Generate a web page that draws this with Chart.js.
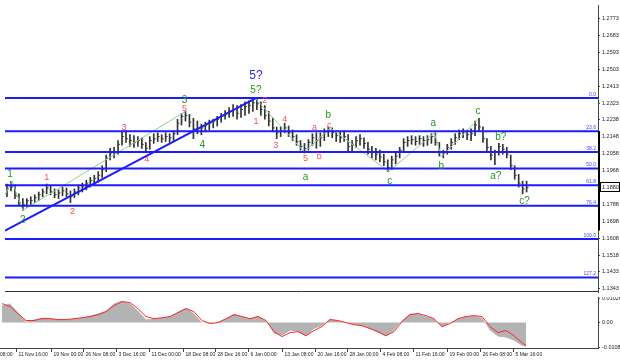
<!DOCTYPE html>
<html>
<head>
<meta charset="utf-8">
<script src="https://cdn.jsdelivr.net/npm/chart.js@4.4.0/dist/chart.umd.min.js"></script>
<style>
  html, body { margin: 0; padding: 0; background: #fff; }
  #wrap { width: 620px; height: 361px; position: relative; overflow: hidden; background: #fff; }
  #priceChart { position: absolute; left: 0; top: 0; }
  #oscChart { position: absolute; left: 0; top: 297px; }
</style>
</head>
<body>
<div id="wrap">
  <canvas id="priceChart" width="620" height="297"></canvas>
  <canvas id="oscChart" width="620" height="64"></canvas>
</div>
<script>
const FONT = '"Liberation Sans", Arial, sans-serif';

// price bars (one bar per slot, x = bar index)
const highs = [1.1898,1.1913,1.1892,1.1846,1.1821,1.1821,1.1831,1.1841,1.1856,1.1872,
  1.1898,1.1887,1.1872,1.1867,1.1882,1.1877,1.1862,1.1872,1.1892,1.1903,
  1.1918,1.1933,1.1944,1.1964,1.1995,1.2051,1.2087,1.2092,1.2128,1.2174,
  1.2179,1.2159,1.2154,1.2149,1.2143,1.2118,1.2149,1.2164,1.2169,1.2159,
  1.2169,1.2164,1.2179,1.2241,1.2272,1.2282,1.2266,1.2246,1.2231,1.2215,
  1.2225,1.2236,1.2241,1.2256,1.2272,1.2287,1.2302,1.2318,1.2313,1.2318,
  1.2333,1.2338,1.2350,1.2348,1.2333,1.2313,1.2282,1.2246,1.2200,1.2200,
  1.2220,1.2205,1.2184,1.2159,1.2128,1.2113,1.2133,1.2164,1.2169,1.2169,
  1.2190,1.2200,1.2195,1.2179,1.2174,1.2179,1.2159,1.2128,1.2149,1.2159,
  1.2143,1.2118,1.2097,1.2087,1.2077,1.2056,1.2026,1.2046,1.2067,1.2092,
  1.2138,1.2149,1.2154,1.2149,1.2154,1.2149,1.2154,1.2164,1.2169,1.2118,
  1.2077,1.2108,1.2138,1.2164,1.2184,1.2190,1.2184,1.2190,1.2231,1.2246,
  1.2200,1.2138,1.2097,1.2077,1.2113,1.2108,1.2092,1.2051,1.1995,1.1949,
  1.1913,1.1913];
const lows = [1.1831,1.1862,1.1821,1.1785,1.1759,1.1775,1.1790,1.1800,1.1810,1.1831,
  1.1846,1.1841,1.1826,1.1821,1.1836,1.1831,1.1800,1.1826,1.1841,1.1856,
  1.1867,1.1882,1.1892,1.1908,1.1933,1.1964,1.2026,1.2036,1.2056,1.2103,
  1.2118,1.2097,1.2092,1.2097,1.2087,1.2067,1.2082,1.2113,1.2123,1.2118,
  1.2123,1.2118,1.2128,1.2159,1.2210,1.2231,1.2200,1.2138,1.2164,1.2159,
  1.2174,1.2184,1.2195,1.2205,1.2225,1.2241,1.2251,1.2256,1.2241,1.2251,
  1.2261,1.2272,1.2282,1.2292,1.2261,1.2241,1.2205,1.2174,1.2138,1.2149,
  1.2169,1.2149,1.2128,1.2103,1.2077,1.2062,1.2077,1.2103,1.2087,1.2097,
  1.2128,1.2149,1.2143,1.2123,1.2118,1.2123,1.2072,1.2067,1.2092,1.2103,
  1.2087,1.2056,1.2036,1.2026,1.2015,1.1995,1.1964,1.1974,1.2005,1.2036,
  1.2067,1.2097,1.2108,1.2103,1.2108,1.2097,1.2103,1.2113,1.2103,1.2046,
  1.2036,1.2056,1.2082,1.2108,1.2133,1.2143,1.2133,1.2128,1.2154,1.2179,
  1.2118,1.2067,1.2026,1.2000,1.2051,1.2056,1.2036,1.1974,1.1923,1.1882,
  1.1846,1.1856];
const closes = [1.1872,1.1882,1.1836,1.1800,1.1790,1.1810,1.1810,1.1826,1.1841,1.1856,
  1.1877,1.1856,1.1841,1.1851,1.1862,1.1846,1.1831,1.1856,1.1877,1.1887,
  1.1903,1.1918,1.1928,1.1944,1.1974,1.2036,1.2062,1.2067,1.2108,1.2149,
  1.2138,1.2128,1.2118,1.2128,1.2108,1.2087,1.2128,1.2138,1.2149,1.2138,
  1.2149,1.2143,1.2164,1.2220,1.2256,1.2261,1.2225,1.2190,1.2190,1.2195,
  1.2210,1.2220,1.2231,1.2241,1.2256,1.2272,1.2282,1.2292,1.2272,1.2292,
  1.2307,1.2313,1.2328,1.2323,1.2292,1.2261,1.2231,1.2195,1.2169,1.2179,
  1.2195,1.2169,1.2149,1.2123,1.2097,1.2087,1.2118,1.2143,1.2128,1.2143,
  1.2169,1.2184,1.2169,1.2154,1.2143,1.2149,1.2097,1.2108,1.2128,1.2138,
  1.2113,1.2082,1.2067,1.2056,1.2041,1.2015,1.1985,1.2026,1.2046,1.2077,
  1.2118,1.2128,1.2133,1.2123,1.2138,1.2128,1.2133,1.2149,1.2118,1.2067,
  1.2062,1.2092,1.2118,1.2143,1.2164,1.2174,1.2159,1.2164,1.2210,1.2200,
  1.2138,1.2092,1.2051,1.2067,1.2097,1.2082,1.2056,1.1995,1.1944,1.1903,
  1.1872,1.1880];

// right price axis
const priceTicks = [1.2773,1.2683,1.2593,1.2503,1.2413,1.2323,1.2238,1.2148,1.2058,1.1968,
  1.1880,1.1788,1.1698,1.1608,1.1518,1.1433,1.1343];
const axisMarkTop = 1.2179, axisMarkBottom = 1.1652;

// fibonacci grid
const fibHigh = 1.2353, fibLow = 1.1607;
const fibLevels = [0, 23.6, 38.2, 50, 61.8, 76.4, 100, 127.2];
const fibText = ['0.0','23.6','38.2','50.0','61.8','76.4','100.0','127.2'];
const fibPrice = lv => fibHigh - lv / 100 * (fibHigh - fibLow);

// wave marks: [text, bar x, price]
const greenWaves = [['1',0.75,1.1949],['2',4,1.1708],['3',44.75,1.2343],['4',49.25,1.2103],
  ['5?',62.75,1.2394],['a',75.25,1.1933],['b',81,1.2261],['c',96.5,1.1913],
  ['a',107.5,1.2220],['b',109.5,1.1990],['c',118.75,1.2282],['b?',124.5,1.2144],
  ['a?',123.25,1.1939],['c?',130.5,1.1806]];
const redWaves = [['1',10,1.1933],['2',16.5,1.1754],['3',29.5,1.2195],['4',35.25,1.2026],
  ['5',44.75,1.2297],['1',62.75,1.2231],['2',65,1.2338],['3',67.75,1.2103],
  ['4',70,1.2241],['5',75.25,1.2031],['a',77.5,1.2195],['b',78.75,1.2041],['c',81.25,1.2210]];
const blueWaves = [['5?',62.75,1.2471]];

// green zigzag through wave pivots, blue trend line
const zigX = [-0.5,1.25,4,45,null,62.75,75,81.5,96.25,107.75,109.5,118.75];
const zigP = [1.1841,1.1913,1.1759,1.2282,null,1.2348,1.2067,1.2195,1.1964,1.2169,1.2041,1.2241];
const trendX = [-0.5, 62.75];
const trendP = [1.1652, 1.2353];

// time axis
const timeTicks = [-4.75,3.5,12.25,20.25,28.5,36.75,45.25,53.25,61.5,70,78.25,86.25,94.5,102.75,111.25,119.5,127.75];
const timeLabels = ['4 Nov 08:00','11 Nov 16:00','19 Nov 00:00','26 Nov 08:00','3 Dec 16:00','11 Dec 00:00',
  '18 Dec 08:00','28 Dec 16:00','6 Jan 00:00','13 Jan 08:00','20 Jan 16:00','28 Jan 00:00',
  '4 Feb 08:00','11 Feb 16:00','19 Feb 00:00','26 Feb 08:00','5 Mar 16:00'];

// oscillator (MACD-like)
const oscIdx = [0,2,4,6,8,10,12,14,16,18,20,22,24,26,28,30,32,34,36,38,40,42,44,46,48,50,
  52,54,56,58,60,62,64,66,68,70,72,74,76,78,80,82,84,86,88,90,92,94,96,98,100,102,104,106,
  108,110,112,114,116,118,120,122,124,126,128,130,131];
const macdMain = [0.0073,0.0082,0.0043,0.0004,0.0013,0.0021,0.0021,0.0013,0.0013,0.0017,
  0.0021,0.0030,0.0039,0.0051,0.0082,0.0094,0.0082,0.0051,0.0013,0.0017,
  0.0021,0.0026,0.0047,0.0064,0.0039,0,-0.0004,0.0004,0.0017,0.0039,
  0.0026,0.0017,0.0030,0.0009,-0.0047,-0.0056,-0.0034,-0.0039,-0.0060,-0.0026,
  -0.0013,0.0017,0.0009,0,-0.0009,-0.0013,-0.0026,-0.0043,-0.0060,-0.0034,
  0.0009,0.0039,0.0039,0.0026,0.0017,-0.0021,0,0.0017,0.0026,0.0030,
  0.0021,-0.0034,-0.0060,-0.0064,-0.0077,-0.0099,-0.0103];
const macdSignal = [0.0082,0.0069,0.0039,0.0009,0.0009,0.0017,0.0017,0.0013,0.0013,0.0017,
  0.0021,0.0026,0.0034,0.0047,0.0073,0.0090,0.0086,0.0060,0.0026,0.0017,
  0.0021,0.0026,0.0043,0.0060,0.0047,0.0009,-0.0004,0,0.0017,0.0034,
  0.0026,0.0017,0.0026,0.0009,-0.0039,-0.0060,-0.0043,-0.0039,-0.0056,-0.0034,
  -0.0017,0.0013,0.0009,0,-0.0009,-0.0013,-0.0026,-0.0039,-0.0056,-0.0039,
  0.0004,0.0034,0.0039,0.0030,0.0017,-0.0017,-0.0004,0.0017,0.0026,0.0030,
  0.0026,-0.0017,-0.0043,-0.0034,-0.0056,-0.0086,-0.0099];
const oscTicks = [0.01026, 0, -0.0108];
const oscTickText = ['0.01026', '0.00', '-0.0108'];

const X_MIN = -0.5, X_MAX = 149;

const fixAxis = s => { s.width = 22; s.paddingTop = 0; s.paddingBottom = 0; };

const priceOverlay = {
  id: 'priceOverlay',
  afterDatasetsDraw(chart) {
    const { ctx, chartArea: a, scales: { x, y } } = chart;
    ctx.save();
    ctx.font = '5px ' + FONT;
    ctx.fillStyle = '#4444ff';
    ctx.textAlign = 'right';
    ctx.textBaseline = 'bottom';
    fibLevels.forEach((lv, k) => {
      ctx.fillText(fibText[k], a.right - 2, y.getPixelForValue(fibPrice(lv)) - 1);
    });

    const drawGroup = (list, font, color) => {
      ctx.font = font;
      ctx.fillStyle = color;
      ctx.textAlign = 'center';
      ctx.textBaseline = 'middle';
      list.forEach(([t, xv, p]) => ctx.fillText(t, x.getPixelForValue(xv), y.getPixelForValue(p)));
    };
    drawGroup(greenWaves, '10px ' + FONT, '#1f9a1f');
    drawGroup(redWaves, '9px ' + FONT, '#f25454');
    drawGroup(blueWaves, '12px ' + FONT, '#2a2ad8');

    ctx.strokeStyle = '#333';
    ctx.lineWidth = 1;
    ctx.beginPath();
    ctx.moveTo(a.left, a.bottom - 0.5);
    ctx.lineTo(a.right, a.bottom - 0.5);
    ctx.stroke();
    ctx.restore();
  },
  afterDraw(chart) {
    const { ctx, chartArea: a, scales: { y } } = chart;
    const py = Math.round(y.getPixelForValue(closes[closes.length - 1]));
    ctx.save();
    ctx.strokeStyle = '#000';
    ctx.lineWidth = 1;
    ctx.strokeRect(a.right + 2.5, py - 4.5, 19, 9);
    ctx.lineWidth = 2;
    ctx.beginPath();
    ctx.moveTo(a.right + 1, y.getPixelForValue(axisMarkTop));
    ctx.lineTo(a.right + 1, y.getPixelForValue(axisMarkBottom));
    ctx.stroke();
    ctx.restore();
  }
};

const fibSets = fibLevels.map(lv => ({
  type: 'line',
  data: [{ x: X_MIN, y: fibPrice(lv) }, { x: X_MAX, y: fibPrice(lv) }],
  borderColor: '#1c1cff',
  borderWidth: 2,
  pointRadius: 0,
  order: 0
}));

new Chart(document.getElementById('priceChart'), {
  type: 'bar',
  data: {
    datasets: [
      {
        type: 'bar',
        data: highs.map((h, i) => ({ x: i, y: [lows[i], h] })),
        backgroundColor: '#333',
        barThickness: 1,
        grouped: false,
        order: 3
      },
      {
        type: 'scatter',
        data: closes.map((c, i) => ({ x: i + 0.25, y: c })),
        pointStyle: 'line',
        radius: 1,
        borderColor: '#444',
        borderWidth: 1,
        order: 3
      },
      {
        type: 'line',
        data: zigX.map((xv, k) => ({ x: xv, y: zigP[k] })),
        borderColor: '#8fd18f',
        borderWidth: 1,
        pointRadius: 0,
        spanGaps: false,
        order: 2
      },
      {
        type: 'line',
        data: trendX.map((xv, k) => ({ x: xv, y: trendP[k] })),
        borderColor: '#1c1cff',
        borderWidth: 2,
        pointRadius: 0,
        order: 1
      },
      ...fibSets
    ]
  },
  options: {
    responsive: false,
    animation: false,
    events: [],
    layout: { padding: 0 },
    plugins: { legend: { display: false }, tooltip: { enabled: false } },
    scales: {
      x: { type: 'linear', min: X_MIN, max: X_MAX, offset: false, display: false },
      y: {
        position: 'right',
        min: 1.1327,
        max: 1.2845,
        afterBuildTicks: s => { s.ticks = priceTicks.map(v => ({ value: v })); },
        afterFit: fixAxis,
        ticks: {
          autoSkip: false,
          padding: 2,
          color: '#222',
          font: { family: FONT, size: 5.5 },
          callback: v => v.toFixed(4)
        },
        grid: { drawOnChartArea: false, drawTicks: true, tickLength: 2, color: '#555' },
        border: { color: '#444', width: 1 }
      }
    }
  },
  plugins: [priceOverlay]
});

const timeAxis = {
  id: 'timeAxis',
  afterDraw(chart) {
    const { ctx, chartArea: a, scales: { x } } = chart;
    ctx.save();
    ctx.strokeStyle = '#444';
    ctx.lineWidth = 1;
    ctx.beginPath();
    ctx.moveTo(0, a.bottom + 0.5);
    ctx.lineTo(a.right, a.bottom + 0.5);
    ctx.stroke();
    ctx.font = '5px ' + FONT;
    ctx.fillStyle = '#222';
    ctx.textAlign = 'left';
    ctx.textBaseline = 'middle';
    timeTicks.forEach((v, k) => {
      const px = Math.round(x.getPixelForValue(v)) + 0.5;
      ctx.beginPath();
      ctx.moveTo(px, a.bottom);
      ctx.lineTo(px, a.bottom + 4);
      ctx.stroke();
      ctx.fillText(timeLabels[k], px + 2, a.bottom + 7);
    });
    ctx.restore();
  }
};

new Chart(document.getElementById('oscChart'), {
  type: 'line',
  data: {
    datasets: [
      {
        data: oscIdx.map((xv, k) => ({ x: xv, y: macdMain[k] })),
        fill: 'origin',
        backgroundColor: '#b3b3b3',
        borderColor: '#b3b3b3',
        borderWidth: 0,
        pointRadius: 0,
        order: 2
      },
      {
        data: oscIdx.map((xv, k) => ({ x: xv, y: macdSignal[k] })),
        borderColor: '#ff2a2a',
        borderWidth: 1,
        pointRadius: 0,
        fill: false,
        order: 1
      }
    ]
  },
  options: {
    responsive: false,
    animation: false,
    events: [],
    layout: { padding: { bottom: 13 } },
    plugins: { legend: { display: false }, tooltip: { enabled: false } },
    scales: {
      x: { type: 'linear', min: X_MIN, max: X_MAX, display: false },
      y: {
        position: 'right',
        min: -0.0109,
        max: 0.0110,
        afterBuildTicks: s => { s.ticks = oscTicks.map(v => ({ value: v })); },
        afterFit: fixAxis,
        ticks: {
          autoSkip: false,
          padding: 2,
          color: '#222',
          font: { family: FONT, size: 5.5 },
          callback: (v, k) => oscTickText[k]
        },
        grid: { drawOnChartArea: false, drawTicks: true, tickLength: 2, color: '#555' },
        border: { color: '#444', width: 1 }
      }
    }
  },
  plugins: [timeAxis]
});
</script>
</body>
</html>
